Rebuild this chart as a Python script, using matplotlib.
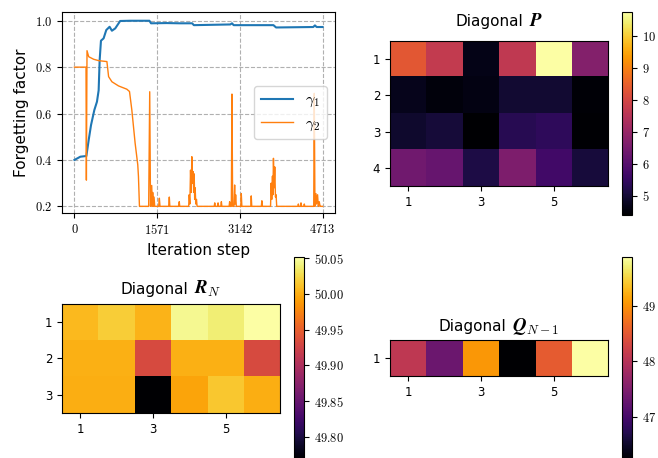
import numpy as np
import matplotlib
matplotlib.use("Agg")
import matplotlib.pyplot as plt
from matplotlib.ticker import FixedLocator, FixedFormatter
from matplotlib.offsetbox import TextArea, HPacker, AnchoredOffsetbox
from matplotlib.transforms import offset_copy

plt.rcParams['mathtext.fontset'] = 'cm'
plt.rcParams['font.family'] = ['DejaVu Sans']

# ---------------- data ----------------
steps_g1 = [0, 113, 227, 271, 315, 378, 428, 460, 479, 504, 554, 605, 668, 712, 775,
            869, 1058, 1279, 1424, 1455, 1750, 2003, 2236, 2268, 2961, 2993, 3024,
            3780, 3830, 4536, 4568, 4600, 4713]
gamma1 = [0.400, 0.414, 0.417, 0.486, 0.550, 0.615, 0.651, 0.700, 0.830, 0.914, 0.924,
          0.960, 0.974, 0.957, 0.967, 0.999, 1.000, 1.000, 1.000, 0.989, 0.990, 0.989,
          0.989, 0.981, 0.984, 0.989, 0.981, 0.981, 0.971, 0.973, 0.980, 0.973, 0.973]

steps_g2 = [0, 220, 227, 239, 271, 365, 460, 617, 649, 712, 838, 995, 1046, 1090, 1153,
            1203, 1216, 1235, 1410, 1430, 1445, 1468, 1478, 1487, 1497, 1512, 1525, 1600,
            1613, 1625, 1790, 1802, 1812, 1980, 1991, 2000, 2170, 2180, 2192, 2205, 2218,
            2230, 2243, 2255, 2265, 2274, 2284, 2293, 2305, 2318, 2330, 2655, 2665, 2675,
            2718, 2728, 2740, 2780, 2791, 2800, 2938, 2948, 2958, 2980, 2992, 3005, 3030,
            3043, 3052, 3062, 3075, 3160, 3169, 3180, 3350, 3358, 3368, 3550, 3560, 3570,
            3725, 3736, 3748, 3761, 3770, 3780, 3793, 3805, 3818, 3830, 3842, 4245, 4253,
            4262, 4295, 4303, 4312, 4358, 4366, 4375, 4545, 4555, 4568, 4587, 4600, 4618,
            4632, 4650, 4665, 4681, 4713]
gamma2 = [0.800, 0.800, 0.313, 0.871, 0.845, 0.834, 0.828, 0.824, 0.759, 0.737, 0.719,
          0.705, 0.695, 0.616, 0.472, 0.379, 0.329, 0.200, 0.200, 0.694, 0.200, 0.290,
          0.200, 0.260, 0.200, 0.240, 0.200, 0.200, 0.235, 0.200, 0.200, 0.240, 0.200,
          0.200, 0.220, 0.200, 0.200, 0.250, 0.210, 0.356, 0.260, 0.414, 0.300, 0.350,
          0.260, 0.340, 0.230, 0.280, 0.210, 0.230, 0.200, 0.200, 0.215, 0.200, 0.200,
          0.215, 0.200, 0.200, 0.220, 0.200, 0.200, 0.220, 0.200, 0.200, 0.684, 0.200,
          0.200, 0.292, 0.210, 0.250, 0.200, 0.200, 0.255, 0.200, 0.200, 0.245, 0.200,
          0.200, 0.224, 0.200, 0.200, 0.300, 0.230, 0.330, 0.250, 0.407, 0.280, 0.370,
          0.240, 0.250, 0.200, 0.200, 0.210, 0.200, 0.200, 0.215, 0.200, 0.200, 0.210,
          0.200, 0.200, 0.687, 0.200, 0.255, 0.210, 0.250, 0.200, 0.220, 0.200, 0.200,
          0.200]

x_ticks = [0, 1571, 3142, 4713]
y_ticks = [0.2, 0.4, 0.6, 0.8, 1.0]

P_diag = [[8.34, 7.70, 4.65, 7.65, 10.75, 6.70],
          [4.70, 4.53, 4.60, 4.97, 4.97, 4.47],
          [4.90, 5.03, 4.40, 5.30, 5.40, 4.43],
          [6.40, 6.25, 5.15, 6.60, 5.67, 5.05]]
R_diag = [[50.007, 50.018, 50.004, 50.046, 50.038, 50.052],
          [50.001, 50.001, 49.933, 50.001, 50.001, 49.933],
          [50.000, 50.000, 49.768, 49.995, 50.015, 50.000]]
Q_diag = [[48.09, 47.33, 49.04, 46.23, 48.53, 49.88]]

P_cticks = [5, 6, 7, 8, 9, 10]
R_cticks = [49.80, 49.85, 49.90, 49.95, 50.00, 50.05]
Q_cticks = [47, 48, 49]

# ---------------- figure ----------------
W, H = 658, 458
fig = plt.figure(figsize=(W / 100, H / 100), dpi=100)


def box(l, t, r, b):
    return [l / W, 1 - b / H, (r - l) / W, (b - t) / H]


ax_line = fig.add_axes(box(62, 11.7, 335, 213.3))
ax_P = fig.add_axes(box(390, 11.7, 663, 215))
ax_R = fig.add_axes(box(62, 256.7, 335, 459.7))
ax_Q = fig.add_axes(box(390, 256.7, 663, 459.7))

# line plot
ax_line.plot(steps_g1, gamma1, color='#1f77b4', lw=1.5, label=r'$\gamma_1$')
ax_line.plot(steps_g2, gamma2, color='#ff7f0e', lw=1.0, label=r'$\gamma_2$')
ax_line.set_xlim(-236, 4949)
ax_line.set_ylim(0.17, 1.039)
ax_line.xaxis.set_major_locator(FixedLocator(x_ticks))
ax_line.xaxis.set_major_formatter(FixedFormatter([r'$%d$' % v for v in x_ticks]))
ax_line.yaxis.set_major_locator(FixedLocator(y_ticks))
ax_line.yaxis.set_major_formatter(FixedFormatter([r'$%.1f$' % v for v in y_ticks]))
ax_line.tick_params(labelsize=9)
ax_line.grid(True, ls='--', color='#b0b0b0', lw=0.8)
ax_line.set_xlabel('Iteration step', fontsize=11)
ax_line.set_ylabel('Forgetting factor', fontsize=11)
ax_line.legend(loc='center right', fontsize=11.5, handlelength=2.0, labelspacing=0.4)


def heat(ax, data, word, sym, cticks, fmt, lift):
    data = np.array(data)
    im = ax.imshow(data, cmap='inferno', aspect='equal')
    nr, nc = data.shape
    ax.set_xticks([0, 2, 4])
    ax.set_xticklabels(['1', '3', '5'])
    ax.set_yticks(range(nr))
    ax.set_yticklabels([str(i + 1) for i in range(nr)])
    ax.tick_params(labelsize=8.5)
    t1 = TextArea(word, textprops=dict(fontsize=11))
    t2 = TextArea(sym, textprops=dict(fontsize=13.5))
    pack = HPacker(children=[t1, t2], align='baseline', pad=0, sep=4)
    anch = AnchoredOffsetbox(loc='lower center', child=pack, pad=0, borderpad=0,
                             frameon=False, bbox_to_anchor=(0.5, 1.0),
                             bbox_transform=offset_copy(ax.transAxes, fig=fig,
                                                        y=lift, units='points'))
    ax.add_artist(anch)
    cb = fig.colorbar(im, ax=ax)
    cb.set_ticks(cticks)
    cb.set_ticklabels([fmt % v for v in cticks])
    cb.ax.tick_params(labelsize=9)
    return im, cb


heat(ax_P, P_diag, 'Diagonal', r'$\boldsymbol{P}$', P_cticks, r'$%d$', 7.5)
heat(ax_R, R_diag, 'Diagonal', r'$\boldsymbol{R}_N$', R_cticks, r'$%.2f$', 3.0)
heat(ax_Q, Q_diag, 'Diagonal', r'$\boldsymbol{Q}_{N-1}$', Q_cticks, r'$%d$', 2.5)

fig.savefig('out.png', dpi=100)
